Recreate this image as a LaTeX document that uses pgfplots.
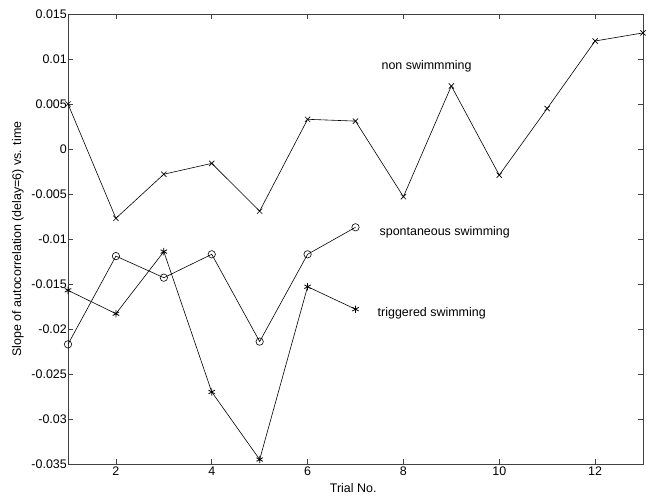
\documentclass[border=0pt]{standalone}
\usepackage{fontspec}
\setmainfont{Liberation Sans}
\usepackage{pgfplots}
\pgfplotsset{compat=1.18}
\begin{document}
\begin{tikzpicture}[font=\fontsize{12.5}{15}\selectfont]
\begin{axis}[
  scale only axis,
  width=575bp, height=450bp,
  xmin=1, xmax=13,
  ymin=-0.035, ymax=0.015,
  xtick={2,4,6,8,10,12},
  ytick={-0.035,-0.03,-0.025,-0.02,-0.015,-0.01,-0.005,0,0.005,0.01,0.015},
  yticklabels={-0.035,-0.03,-0.025,-0.02,-0.015,-0.01,-0.005,0,0.005,0.01,0.015},
  scaled y ticks=false,
  /pgf/number format/assume math mode=true,
  tick align=inside,
  major tick length=5bp,
  axis line style={black!75, line width=0.6pt},
  every tick/.style={black!75, line width=0.6pt},
  tick label style={font=\fontsize{12.5}{15}\selectfont},
  yticklabel style={inner xsep=1bp},
  xticklabel style={inner ysep=3bp},
  label style={font=\fontsize{12.5}{15}\selectfont},
  xlabel={Trial No.},
  ylabel={Slope of autocorrelation (delay=6) vs. time},
  every axis x label/.style={at={(axis description cs:0.496,-0.053)}, anchor=center},
  every axis y label/.style={at={(axis description cs:-0.087,0.5)}, rotate=90, anchor=center},
  clip=false,
]
\addplot[black, line width=0.6pt, mark=x, mark size=3.7bp, mark options={solid, line width=0.6pt}] coordinates {
(1,0.0050) (2,-0.0077) (3,-0.0028) (4,-0.0016) (5,-0.0069) (6,0.0033) (7,0.0031)
(8,-0.0053) (9,0.0070) (10,-0.0029) (11,0.0045) (12,0.0120) (13,0.0129)
};
\addplot[black, line width=0.6pt, mark=o, mark size=3.7bp, mark options={solid, line width=0.6pt}] coordinates {
(1,-0.0217) (2,-0.0119) (3,-0.0143) (4,-0.0117) (5,-0.0214) (6,-0.0117) (7,-0.0087)
};
\addplot[black, line width=0.6pt, mark=asterisk, mark size=3.7bp, mark options={solid, line width=0.8pt}] coordinates {
(1,-0.0157) (2,-0.0183) (3,-0.0114) (4,-0.0270) (5,-0.0345) (6,-0.0153) (7,-0.0178)
};
\node[anchor=west, inner sep=0pt] at (axis cs:7.54,0.0092) {non swimmming};
\node[anchor=west, inner sep=0pt] at (axis cs:7.50,-0.0092) {spontaneous swimming};
\node[anchor=west, inner sep=0pt] at (axis cs:7.46,-0.0182) {triggered swimming};
\end{axis}
\path (current axis.south west) ++(-68bp,-33bp) rectangle ++(651bp,497bp);
\end{tikzpicture}
\end{document}
